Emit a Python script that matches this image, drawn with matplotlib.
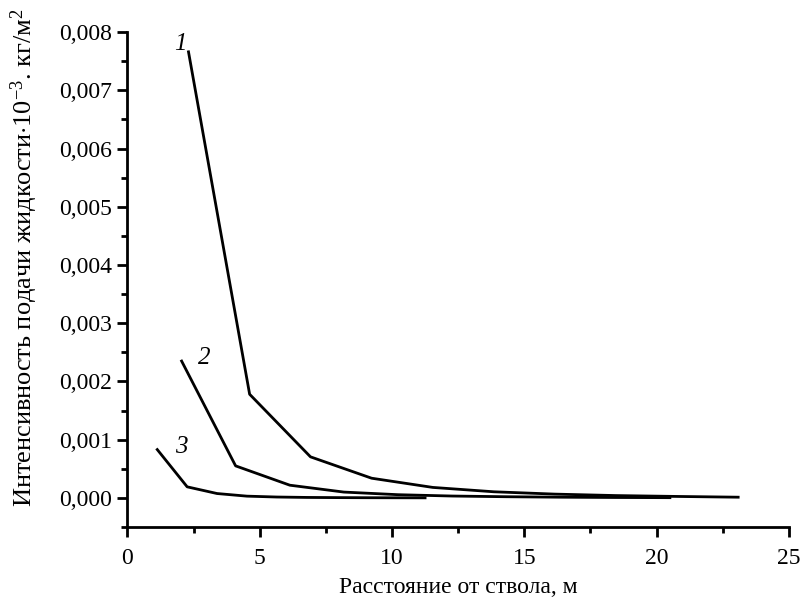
import matplotlib
matplotlib.use("Agg")
import matplotlib.pyplot as plt
from matplotlib.ticker import MultipleLocator, FuncFormatter

plt.rcParams['font.family'] = ['Liberation Serif', 'DejaVu Serif']
plt.rcParams['mathtext.fontset'] = 'custom'
plt.rcParams['mathtext.rm'] = 'Liberation Serif'
plt.rcParams['mathtext.it'] = 'Liberation Serif:italic'

# distance from the nozzle, m
x1 = [2.31, 4.62, 6.92, 9.23, 11.54, 13.85, 16.15, 18.46, 20.77, 23.08]
x2 = [2.05, 4.09, 6.14, 8.18, 10.23, 12.27, 14.32, 16.36, 18.41, 20.5]
x3 = [1.13, 2.26, 3.39, 4.52, 5.65, 6.78, 7.91, 9.04, 10.17, 11.25]

# liquid supply intensity
y1 = [0.00766, 0.00178, 0.000705, 0.000338, 0.00018, 0.000105, 0.000065, 0.00004, 0.000025, 0.000012]
y2 = [0.00235, 0.00055, 0.000218, 0.0001, 0.000055, 0.000032, 0.00002, 0.000012, 0.000007, 0.000004]
y3 = [0.00083, 0.00019, 0.000075, 0.00003, 0.000015, 0.000008, 0.000005, 0.000003, 0.000002, 0.000001]

curve_labels = ['1', '2', '3']
label_pos = [(2.0, 0.0078), (2.9, 0.0024), (2.05, 0.00088)]

fig = plt.figure(figsize=(8.01, 6.08), dpi=100)
ax = fig.add_axes([0.159, 0.1332, 0.826, 0.8141])

for xs, ys in [(x1, y1), (x2, y2), (x3, y3)]:
    ax.plot(xs, ys, color='black', lw=2)

for lab, (lx, ly) in zip(curve_labels, label_pos):
    ax.text(lx, ly, lab, fontsize=18, style='italic', ha='center', va='center')

ax.set_xlim(0, 25)
ax.set_ylim(-0.0005, 0.008)
ax.spines['top'].set_visible(False)
ax.spines['right'].set_visible(False)
for s in ['left', 'bottom']:
    ax.spines[s].set_linewidth(2)

ax.xaxis.set_major_locator(MultipleLocator(5))
ax.xaxis.set_minor_locator(MultipleLocator(2.5))
ax.yaxis.set_major_locator(MultipleLocator(0.001))
ax.yaxis.set_minor_locator(MultipleLocator(0.0005))
ax.yaxis.set_major_formatter(FuncFormatter(lambda v, p: f"{v:.3f}".replace('.', ',').replace('-0,000', '0,000')))
ax.xaxis.set_major_formatter(FuncFormatter(lambda v, p: f"{v:g}"))

ax.tick_params(which='major', direction='out', length=7, width=2, labelsize=17)
ax.tick_params(which='minor', direction='out', length=4, width=2)
ax.tick_params(axis='x', pad=8)
ax.tick_params(axis='y', pad=4)

ax.set_xlabel('Расстояние от ствола, м', fontsize=17, labelpad=6)
ax.set_ylabel(r'Интенсивность подачи жидкости$\cdot$10$^{-3}$. кг/м$^{2}$', fontsize=19)
ax.yaxis.set_label_coords(-0.132, 0.545)

fig.savefig('out.png', dpi=100)
